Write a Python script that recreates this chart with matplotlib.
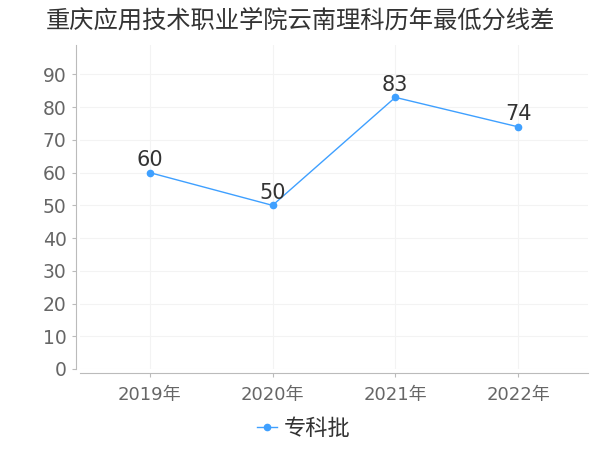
import matplotlib.pyplot as plt

plt.rcParams['font.family'] = ['DejaVu Sans', 'Noto Sans CJK SC']

years = ['2019年', '2020年', '2021年', '2022年']
scores = [60, 50, 83, 74]
series_name = '专科批'
title = '重庆应用技术职业学院云南理科历年最低分线差'

fig = plt.figure(figsize=(6, 4.5), dpi=100)
ax = fig.add_axes([0.133, 0.18, 0.847, 0.72])

x = list(range(len(years)))
ax.plot(x, scores, color='#3fa0ff', lw=1, marker='o', ms=4.5, label=series_name)
for xi, v in zip(x, scores):
    ax.text(xi, v + 0.8, str(v), ha='center', va='bottom', fontsize=15, color='#333333')

ax.set_xlim(-0.57, 3.57)
ax.set_ylim(0, 99)
ax.set_yticks(range(0, 100, 10))
ax.set_xticks(x)
ax.set_xticklabels(years)
ax.grid(True, color='#f3f3f3', lw=0.8)
ax.set_axisbelow(True)

for s in ['top', 'right']:
    ax.spines[s].set_visible(False)
ax.spines['left'].set_position(('outward', 3))
ax.spines['bottom'].set_position(('outward', 3))
ax.spines['left'].set_color('#bbbbbb')
ax.spines['bottom'].set_color('#bbbbbb')
ax.tick_params(axis='y', colors='#bbbbbb', labelcolor='#666666', labelsize=13.5, length=3)
ax.tick_params(axis='x', colors='#bbbbbb', labelcolor='#666666', labelsize=13, length=3, pad=6)

fig.text(0.5, 0.955, title, ha='center', va='center', fontsize=17.5, color='#333333')
ax.legend(loc='upper center', bbox_to_anchor=(0.44, -0.09), frameon=False, fontsize=16,
          handlelength=0.9, handletextpad=0.3, labelcolor='#333333')

fig.savefig('out.png')
